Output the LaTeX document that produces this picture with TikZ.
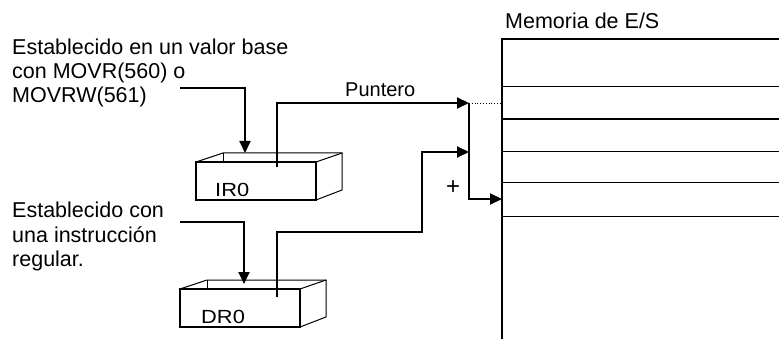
\documentclass[tikz,border=0pt]{standalone}
\usepackage{fontspec}
\setmainfont{Liberation Sans}
\usetikzlibrary{arrows.meta}
\tikzset{
  conn/.style={line width=2pt, line join=miter},
  arr/.style={conn, -{Triangle[length=12pt,width=11pt]}},
  lbl/.style={font=\fontsize{21.5}{24}\selectfont, inner sep=0pt, anchor=base west},
  regl/.style={font=\fontsize{19}{22}\selectfont, inner sep=0pt, anchor=base west},
  memline/.style={line width=1pt},
  front/.style={line width=2pt},
  back/.style={line width=1pt},
}
\begin{document}
\begin{tikzpicture}[x=1pt,y=-1pt]
\useasboundingbox (0,0) rectangle (779,339);
% texts
\node[lbl] (t1a) at (12,55) {Establecido en un valor base};
\node[lbl] (t1b) at (12,79) {con MOVR(560) o};
\node[lbl] (t1c) at (12,103) {MOVRW(561)};
\node[lbl] (t2a) at (12,218) {Establecido con};
\node[lbl] (t2b) at (12,242) {una instrucción};
\node[lbl] (t2c) at (12,266) {regular.};
\node[lbl] (mt) at (505,29) {Memoria de E/S};
\node[lbl, font=\fontsize{20}{22}\selectfont] (pt) at (345,97) {Puntero};
\node[lbl, font=\fontsize{24}{24}\selectfont] (plus) at (446,195) {+};
% IR0 box
\draw[back] (196,162) -- (223,153) -- (342,153) -- (342,190) -- (316,200);
\draw[back] (223,153) -- (223,162);
\draw[back] (342,153) -- (316,162);
\draw[front] (196,162) rectangle (316,200);
\node[regl] (ir) at (215,197) {\scalebox{1.15}[1]{IR0}};
% DR0 box
\draw[back] (180,289) -- (207,280) -- (326,280) -- (326,317) -- (300,327);
\draw[back] (207,280) -- (207,289);
\draw[back] (326,280) -- (300,289);
\draw[front] (180,289) rectangle (300,327);
\node[regl] (dr) at (201,323) {\scalebox{1.15}[1]{DR0}};
% coordinates
\coordinate (a1s) at (180,88);
\coordinate (a1e) at (245,153);
\coordinate (a2s) at (180,222);
\coordinate (a2e) at (244,284);
\coordinate (irp) at (277,167);
\coordinate (drp) at (277,297);
\coordinate (b1) at (469,103);
\coordinate (b2) at (469,152);
\coordinate (b3) at (469,199);
\coordinate (m0) at (502,39);
\coordinate (mb) at (502,339);
\coordinate (m3) at (502,199);
\coordinate (m1) at (502,103);
% connectors
\draw[arr] (a1s) -| (a1e);
\draw[arr] (a2s) -| (a2e);
\draw[arr] (irp) |- (b1);
\draw[arr] (drp) -- (277,232) -- (422,232) |- (b2);
\draw[arr] (b1) |- (m3);
\draw[line width=0.8pt, dotted] (b1) -- (m1);
% memory
\draw[line width=2pt] (779,39) -- (m0) -- (mb);
\draw[memline] (502,87) -- (779,87);
\draw[line width=1.8pt] (502,119) -- (779,119);
\draw[memline] (502,152) -- (779,152);
\draw[memline] (502,183) -- (779,183);
\draw[memline] (502,217) -- (779,217);
\end{tikzpicture}
\end{document}
